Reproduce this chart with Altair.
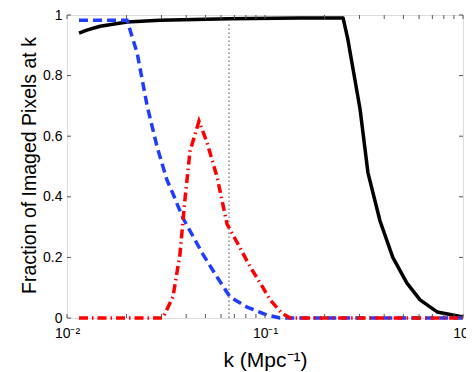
import altair as alt
import pandas as pd

# ---- data ----
black_k = [0.0115, 0.0126, 0.0147, 0.0201, 0.0295, 0.0665, 0.150, 0.248, 0.262, 0.302,
           0.331, 0.381, 0.442, 0.521, 0.607, 0.740, 1.0]
black_v = [0.94, 0.95, 0.963, 0.977, 0.983, 0.988, 0.99, 0.99, 0.92, 0.69,
           0.48, 0.32, 0.20, 0.115, 0.06, 0.02, 0.003]

blue_k = [0.0115, 0.0201, 0.0226, 0.0254, 0.0285, 0.0320, 0.0343, 0.0385, 0.0486,
          0.0573, 0.0665, 0.0811, 0.102, 0.119, 1.0]
blue_v = [0.983, 0.983, 0.875, 0.70, 0.565, 0.455, 0.41, 0.33, 0.21,
          0.135, 0.07, 0.036, 0.01, 0.0, 0.0]

red_k = [0.0115, 0.0305, 0.0343, 0.0372, 0.0394, 0.0418, 0.0464, 0.0509, 0.0573,
         0.0643, 0.0722, 0.0840, 0.0977, 0.106, 0.122, 0.134, 1.0]
red_v = [0.0, 0.0, 0.07, 0.21, 0.39, 0.55, 0.65, 0.58, 0.465,
         0.31, 0.25, 0.17, 0.10, 0.06, 0.015, 0.0, 0.0]

marker_k = [0.0658, 0.0658]
marker_v = [0.0, 0.975]

x_major = [0.01, 0.1, 1.0]
x_minor = [0.02, 0.03, 0.04, 0.05, 0.06, 0.07, 0.08, 0.09,
           0.2, 0.3, 0.4, 0.5, 0.6, 0.7, 0.8, 0.9]
y_ticks = [0.0, 0.2, 0.4, 0.6, 0.8, 1.0]

FONT = "Liberation Sans, Arial, Helvetica, sans-serif"
FRAME = "#555555"
W, H = 396, 303

xscale = alt.Scale(type="log", domain=[0.01, 1.0], nice=False)
yscale = alt.Scale(domain=[0, 1], nice=False, zero=False)

xaxis = alt.Axis(
    values=x_major,
    labelExpr="datum.value < 0.05 ? '10⁻²' : (datum.value < 0.5 ? '10⁻¹' : '10⁰')",
    title="k (Mpc⁻¹)",
    ticks=False, tickSize=0, domain=False, grid=False,
    labelFont=FONT, labelFontSize=14, labelColor="black", labelPadding=8,
    labelBaseline="top", labelFlush=False, labelOverlap=False,
    titleFont=FONT, titleFontSize=21, titleFontWeight="normal", titleColor="black",
    titleBaseline="alphabetic", titleY=48,
)
yaxis = alt.Axis(
    values=y_ticks,
    labelExpr="datum.value == 0 ? '0' : (datum.value == 1 ? '1' : format(datum.value, '.1f'))",
    title="Fraction of Imaged Pixels at k",
    ticks=False, tickSize=0, domain=False, grid=False,
    labelFont=FONT, labelFontSize=14, labelColor="black", labelPadding=5,
    labelFlush=False, labelOverlap=False,
    titleFont=FONT, titleFontSize=19.5, titleFontWeight="normal", titleColor="black",
    titleBaseline="alphabetic", titleAngle=270, titleX=-32, titleY=150, titleAlign="center",
)

def line_df(k, v):
    return pd.DataFrame({"k": k, "v": v})

ax_x = alt.X("k:Q", scale=xscale, axis=xaxis)
ax_y = alt.Y("v:Q", scale=yscale, axis=yaxis)
px = alt.X("k:Q", scale=xscale)
py = alt.Y("v:Q", scale=yscale)

marker = alt.Chart(line_df(marker_k, marker_v)).mark_line(
    color="#666666", strokeWidth=1.2, strokeDash=[1.5, 2.5]
).encode(x=ax_x, y=ax_y)

black = alt.Chart(line_df(black_k, black_v)).mark_line(
    color="black", strokeWidth=3.5, strokeJoin="round"
).encode(x=px, y=py)

blue = alt.Chart(line_df(blue_k, blue_v)).mark_line(
    color="#1f3dff", strokeWidth=3.5, strokeDash=[9, 5], strokeCap="butt"
).encode(x=px, y=py)

red = alt.Chart(line_df(red_k, red_v)).mark_line(
    color="#ff0000", strokeWidth=3.5, strokeDash=[9, 4, 1.5, 4], strokeCap="butt"
).encode(x=px, y=py)

# inward ticks on all four sides
xt = pd.DataFrame({"k": x_major + x_minor})
yt = pd.DataFrame({"v": y_ticks})
tick_style = dict(color=FRAME, strokeWidth=1)
xt_bottom = alt.Chart(xt).mark_rule(**tick_style).encode(
    x=px, y=alt.value(H), y2=alt.value(H - 4))
xt_top = alt.Chart(xt).mark_rule(**tick_style).encode(
    x=px, y=alt.value(0), y2=alt.value(4))
yt_left = alt.Chart(yt).mark_rule(**tick_style).encode(
    y=py, x=alt.value(0), x2=alt.value(4))
yt_right = alt.Chart(yt).mark_rule(**tick_style).encode(
    y=py, x=alt.value(W), x2=alt.value(W - 4))

chart = alt.layer(
    marker, black, blue, red, xt_bottom, xt_top, yt_left, yt_right
).properties(
    width=W, height=H,
    autosize=alt.AutoSizeParams(type="none"),
    padding={"left": 59, "top": 7, "right": 3, "bottom": 54},
).configure_view(
    stroke=FRAME, strokeWidth=1.2
).configure(background="white")

chart.save("out.html", embed_options={"renderer": "svg", "actions": False})
